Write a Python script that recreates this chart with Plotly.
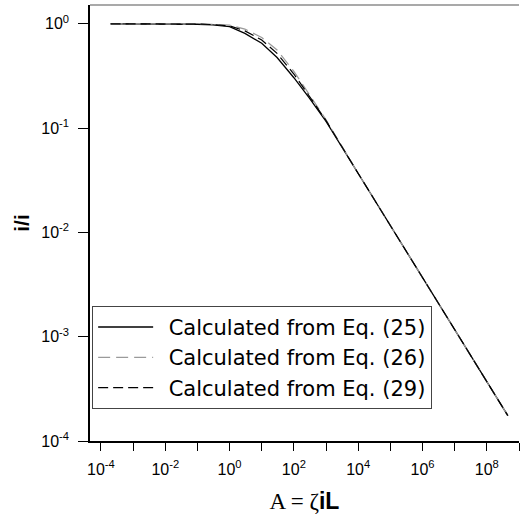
import plotly.graph_objects as go

# Data
A_vals = [2e-4, 1e-3, 1e-2, 1e-1, 0.3, 1, 3, 10, 30, 100, 300, 1000,
          1e4, 1e5, 1e6, 1e7, 1e8, 4.5e8]
eq25 = [1.0, 1.0, 1.0, 0.99, 0.975, 0.94, 0.81, 0.65, 0.475, 0.304, 0.195, 0.116,
        0.0367, 0.0116, 0.00367, 0.00116, 3.67e-4, 1.75e-4]
eq26 = [1.0, 1.0, 1.0, 0.995, 0.99, 0.97, 0.89, 0.74, 0.56, 0.35, 0.21, 0.12,
        0.0367, 0.0116, 0.00367, 0.00116, 3.67e-4, 1.75e-4]
eq29 = [1.0, 1.0, 1.0, 0.993, 0.983, 0.955, 0.855, 0.70, 0.52, 0.33, 0.203, 0.118,
        0.0367, 0.0116, 0.00367, 0.00116, 3.67e-4, 1.75e-4]

names = ["Calculated from Eq. (25)", "Calculated from Eq. (26)", "Calculated from Eq. (29)"]

x_tick_exps = list(range(-4, 10))
y_tick_exps = [0, -1, -2, -3, -4]

fig = go.Figure()
fig.add_trace(go.Scatter(x=A_vals, y=eq25, mode="lines", name="\u2002" + names[0],
                         line=dict(color="black", width=1.3)))
fig.add_trace(go.Scatter(x=A_vals, y=eq26, mode="lines", name="\u2002" + names[1],
                         line=dict(color="#9a9a9a", width=1.2, dash="12px,6px")))
fig.add_trace(go.Scatter(x=A_vals, y=eq29, mode="lines", name="\u2002" + names[2],
                         line=dict(color="black", width=1.2, dash="10px,5px")))

def sup(e):
    return "10<sup>%d</sup>" % e

fig.update_layout(
    width=520, height=523,
    margin=dict(l=90, r=1, t=5, b=82),
    paper_bgcolor="white", plot_bgcolor="white",
    font=dict(family="Liberation Sans, Arial", color="black", size=16),
    showlegend=True,
    legend=dict(x=0.005, y=0.31, xanchor="left", yanchor="top",
                bgcolor="white", bordercolor="#444", borderwidth=1,
                font=dict(size=21, family="DejaVu Sans"),
                itemwidth=55, tracegroupgap=0),
    xaxis=dict(type="log", range=[-4.34, 9.0], automargin=False,
               tickvals=[10.0**e for e in x_tick_exps],
               ticktext=[sup(e) if e % 2 == 0 else "" for e in x_tick_exps],
               ticks="outside", ticklen=8, tickcolor="black", ticklabelstandoff=5,
               showline=True, linecolor="black", linewidth=1.5,
               showgrid=False, zeroline=False,
               title=dict(text='A = ζ<span style="font-family:Liberation Sans"><b>iL</b></span>',
                          font=dict(family="Liberation Serif, Times New Roman", size=23),
                          standoff=16)),
    yaxis=dict(type="log", range=[-4.0, 0.18], automargin=False,
               tickvals=[10.0**e for e in y_tick_exps],
               ticktext=[sup(e) for e in y_tick_exps],
               ticks="outside", ticklen=10, tickcolor="black", ticklabelstandoff=6,
               showline=True, linecolor="black", linewidth=1.5,
               showgrid=False, zeroline=False,
               title=dict(text="<b>i/i</b>", font=dict(size=21), standoff=6)),
    shapes=[dict(type="line", xref="paper", yref="paper", x0=0, x1=1, y0=1, y1=1,
                 line=dict(color="#555", width=1.2))],
)

fig.write_html("out.html", config={"displayModeBar": False})
with open("out.html", "r", encoding="utf-8") as f:
    html = f.read()
html = html.replace("<head>", "<head><style>html,body{margin:0;padding:0;overflow:hidden;}</style>", 1)
with open("out.html", "w", encoding="utf-8") as f:
    f.write(html)
